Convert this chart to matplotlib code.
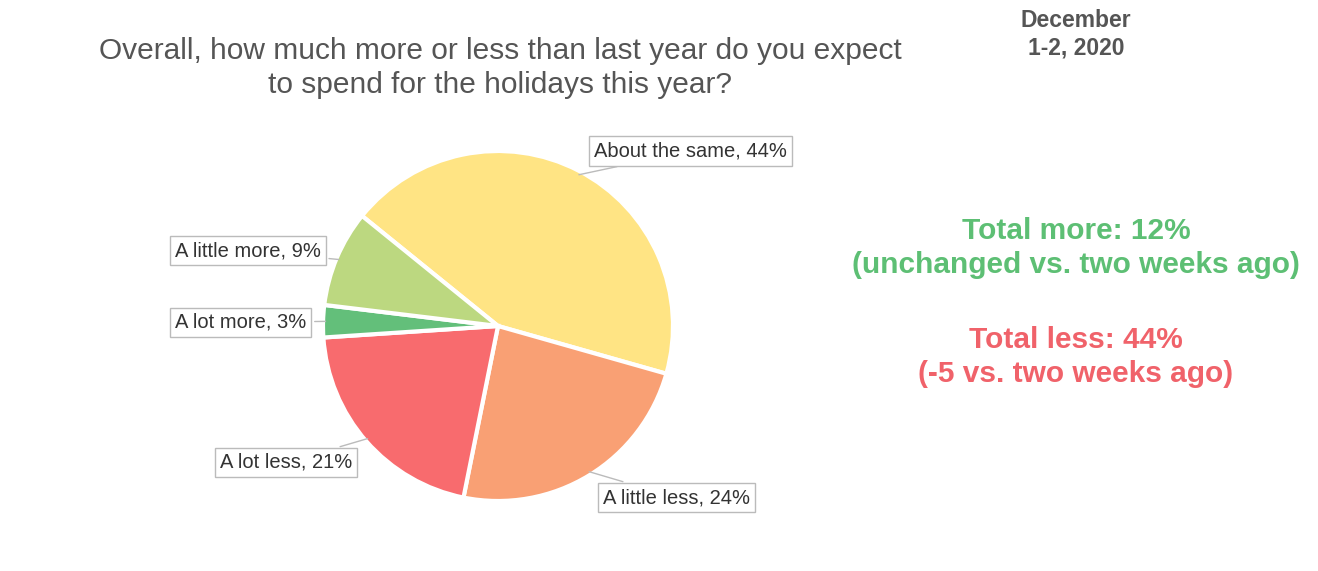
import numpy as np
import matplotlib
matplotlib.use("Agg")
import matplotlib.pyplot as plt

labels = ["About the same", "A little less", "A lot less", "A lot more", "A little more"]
values = [44, 24, 21, 3, 9]
colors = ["#FFE484", "#F9A074", "#F86B6E", "#63BF7A", "#BCD880"]
# label box positions in pie units
label_pos = [(1.10, 1.00), (1.02, -0.98), (-1.21, -0.78), (-1.47, 0.02), (-1.43, 0.43)]

plt.rcParams['font.family'] = ['Liberation Sans', 'DejaVu Sans']
fig = plt.figure(figsize=(13.18, 5.71), dpi=100)

ax = fig.add_axes([(498 - 175) / 1318, (571 - 326 - 175) / 571, 350 / 1318, 350 / 571])
wedges, _ = ax.pie(values, colors=colors, startangle=141, counterclock=False,
                   wedgeprops=dict(edgecolor="white", linewidth=3))
ax.set_xlim(-1, 1)
ax.set_ylim(-1, 1)

for w, lab, v, (tx, ty) in zip(wedges, labels, values, label_pos):
    ang = np.deg2rad((w.theta1 + w.theta2) / 2)
    px, py = 0.97 * np.cos(ang), 0.97 * np.sin(ang)
    ax.annotate(f"{lab}, {v}%", xy=(px, py), xytext=(tx, ty), ha="center", va="center",
                fontsize=14.5, color="#333333", annotation_clip=False,
                bbox=dict(boxstyle="square,pad=0.25", fc="white", ec="#BBBBBB", lw=1),
                arrowprops=dict(arrowstyle="-", color="#BBBBBB", lw=1))

fig.text(500 / 1318, 1 - 68 / 571, "Overall, how much more or less than last year do you expect\nto spend for the holidays this year?",
         ha="center", va="center", fontsize=21.5, color="#555555", linespacing=1.25)
fig.text(1076 / 1318, 1 - 34 / 571, "December\n1-2, 2020", ha="center", va="center",
         fontsize=16.5, fontweight="bold", color="#555555", linespacing=1.25)
fig.text(1076 / 1318, 1 - 248 / 571, "Total more: 12%\n(unchanged vs. two weeks ago)", ha="center", va="center",
         fontsize=21.5, fontweight="bold", color="#5DBF74", linespacing=1.25)
fig.text(1076 / 1318, 1 - 357 / 571, "Total less: 44%\n(-5 vs. two weeks ago)", ha="center", va="center",
         fontsize=21.5, fontweight="bold", color="#F0626A", linespacing=1.25)

fig.savefig("out.png", dpi=100)
